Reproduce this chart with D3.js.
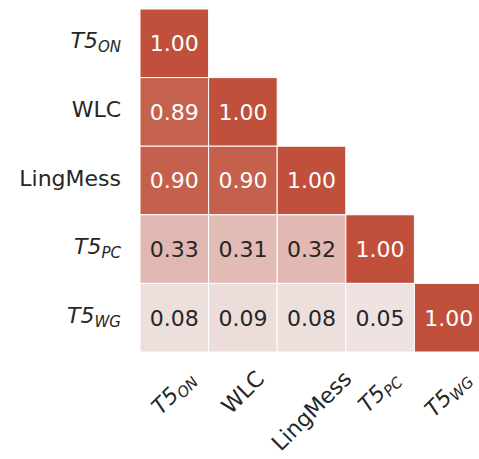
<!DOCTYPE html>
<html>
<head>
<meta charset="utf-8">
<script src="https://cdn.jsdelivr.net/npm/d3@7"></script>
<style>
  html, body { margin: 0; padding: 0; background: #fff; }
  svg { display: block; }
  text { font-family: "DejaVu Sans", sans-serif; }
</style>
</head>
<body>
<svg id="chart" width="479" height="459"></svg>
<script>
// Model names: base text plus optional italic subscript
const labelBase = ["T5", "WLC", "LingMess", "T5", "T5"];
const labelSub  = ["ON", null, null, "PC", "WG"];
const labelMath = [true, false, false, true, true];

// Lower-triangular correlation matrix (row i, columns 0..i)
const corrRows = [
  [1.00],
  [0.89, 1.00],
  [0.90, 0.90, 1.00],
  [0.33, 0.31, 0.32, 1.00],
  [0.08, 0.09, 0.08, 0.05, 1.00]
];

const svg = d3.select("#chart");
const n = labelBase.length;
const cell = 68.6;
const x0 = 140, y0 = 9;

const x = d3.scaleBand().domain(d3.range(n)).range([x0, x0 + n * cell]);
const y = d3.scaleBand().domain(d3.range(n)).range([y0, y0 + n * cell]);
const color = d3.scaleLinear().domain([0, 1]).range(["#f0ebea", "#c0503c"])
  .interpolate(d3.interpolateRgb);

const cells = [];
corrRows.forEach((row, i) => row.forEach((v, j) => cells.push({ i, j, v })));

svg.append("g").selectAll("rect").data(cells).join("rect")
  .attr("x", d => x(d.j))
  .attr("y", d => y(d.i))
  .attr("width", x.bandwidth())
  .attr("height", y.bandwidth())
  .attr("fill", d => color(d.v))
  .attr("stroke", "#ffffff")
  .attr("stroke-width", 1);

svg.append("g").selectAll("text").data(cells).join("text")
  .attr("x", d => x(d.j) + x.bandwidth() / 2)
  .attr("y", d => y(d.i) + y.bandwidth() / 2 + 7.8)
  .attr("text-anchor", "middle")
  .attr("font-size", 22)
  .attr("fill", d => d.v > 0.5 ? "#ffffff" : "#262626")
  .text(d => d.v.toFixed(2));

// Build a label (optionally with subscript) into a text element
function fillLabel(t, i) {
  const base = t.append("tspan").text(labelBase[i]);
  if (labelMath[i]) base.attr("font-style", "italic");
  if (labelSub[i]) {
    t.append("tspan")
      .attr("font-style", "italic")
      .attr("font-size", 15)
      .attr("dy", 4)
      .text(labelSub[i]);
  }
}

// Y axis labels
const yl = svg.append("g");
d3.range(n).forEach(i => {
  const t = yl.append("text")
    .attr("x", 121)
    .attr("y", y(i) + y.bandwidth() / 2 + 5)
    .attr("text-anchor", "end")
    .attr("font-size", 22)
    .attr("fill", "#262626");
  fillLabel(t, i);
});

// X axis labels, rotated 45 degrees, centred under each column
const xl = svg.append("g");
const topY = 366;
const c45 = Math.SQRT1_2;
d3.range(n).forEach(i => {
  const g = xl.append("g");
  const t = g.append("text")
    .attr("x", 0).attr("y", 0)
    .attr("font-size", 22)
    .attr("fill", "#262626");
  fillLabel(t, i);
  const b = t.node().getBBox();
  // rotated bbox of the text under rotate(-45)
  const pts = [[b.x, b.y], [b.x + b.width, b.y], [b.x, b.y + b.height], [b.x + b.width, b.y + b.height]]
    .map(([px, py]) => [px * c45 + py * c45, -px * c45 + py * c45]);
  const minX = d3.min(pts, p => p[0]), maxX = d3.max(pts, p => p[0]);
  const minY = d3.min(pts, p => p[1]);
  const cx = x(i) + x.bandwidth() / 2;
  const tx = cx - (minX + maxX) / 2;
  const ty = topY - minY;
  g.attr("transform", `translate(${tx},${ty}) rotate(-45)`);
});
</script>
</body>
</html>
